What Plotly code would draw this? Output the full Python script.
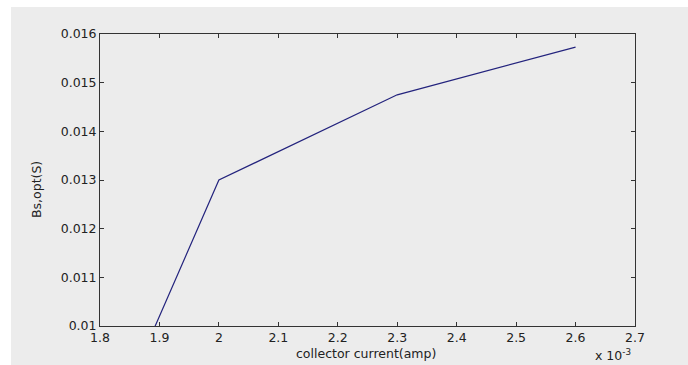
import plotly.graph_objects as go

# collector current in units of 1e-3 A
collector_current = [1.85, 2.0, 2.3, 2.6]
bs_opt = [0.0088, 0.0130, 0.01475, 0.01573]

x_ticks = [1.8, 1.9, 2.0, 2.1, 2.2, 2.3, 2.4, 2.5, 2.6, 2.7]
x_tick_text = ["1.8", "1.9", "2", "2.1", "2.2", "2.3", "2.4", "2.5", "2.6", "2.7"]
y_ticks = [0.010, 0.011, 0.012, 0.013, 0.014, 0.015, 0.016]
y_tick_text = ["0.01", "0.011", "0.012", "0.013", "0.014", "0.015", "0.016"]

BG = "#ececec"
FONT = "DejaVu Sans, Liberation Sans, Arial"
FS = 12.5
W, H = 688, 365
L, R, T, B = 100, 53, 34, 39
pw, ph = W - L - R, H - T - B

def px(xp):
    return (xp - L) / pw

def py(yp):
    return (H - B - yp) / ph

fig = go.Figure()
fig.add_trace(go.Scatter(x=collector_current, y=bs_opt, mode="lines",
                         line=dict(color="#23237d", width=1.2),
                         showlegend=False, hoverinfo="skip"))

axis_common = dict(showgrid=False, zeroline=False, showline=True, linecolor="#333333",
                   linewidth=1, mirror="ticks", ticks="inside", ticklen=4,
                   tickcolor="#333333", tickfont=dict(family=FONT, size=FS, color="#222222"))

fig.update_xaxes(range=[1.8, 2.7], tickmode="array", tickvals=x_ticks, ticktext=x_tick_text,
                 **axis_common)
fig.update_yaxes(range=[0.010, 0.016], tickmode="array", tickvals=y_ticks, ticktext=y_tick_text,
                 **axis_common)

fig.update_layout(
    width=W, height=H,
    margin=dict(l=L, r=R, t=T, b=B, pad=0),
    paper_bgcolor="white", plot_bgcolor=BG,
    font=dict(family=FONT, size=FS, color="#222222"),
    shapes=[dict(type="rect", xref="paper", yref="paper", layer="below",
                 x0=px(11), x1=px(W + 5), y0=py(H + 5), y1=py(7),
                 fillcolor=BG, line=dict(width=0))],
    annotations=[
        dict(text="collector current(amp)", xref="paper", yref="paper",
             x=px(366), y=py(353), showarrow=False, xanchor="center", yanchor="middle",
             font=dict(size=FS)),
        dict(text="Bs,opt(S)", xref="paper", yref="paper", textangle=-90,
             x=px(36), y=py(190), showarrow=False, xanchor="center", yanchor="middle",
             font=dict(size=FS)),
        dict(text="x 10<sup>-3</sup>", xref="paper", yref="paper",
             x=px(613), y=py(355), showarrow=False, xanchor="center", yanchor="middle",
             font=dict(size=FS)),
    ],
)

fig.write_html("out.html")
